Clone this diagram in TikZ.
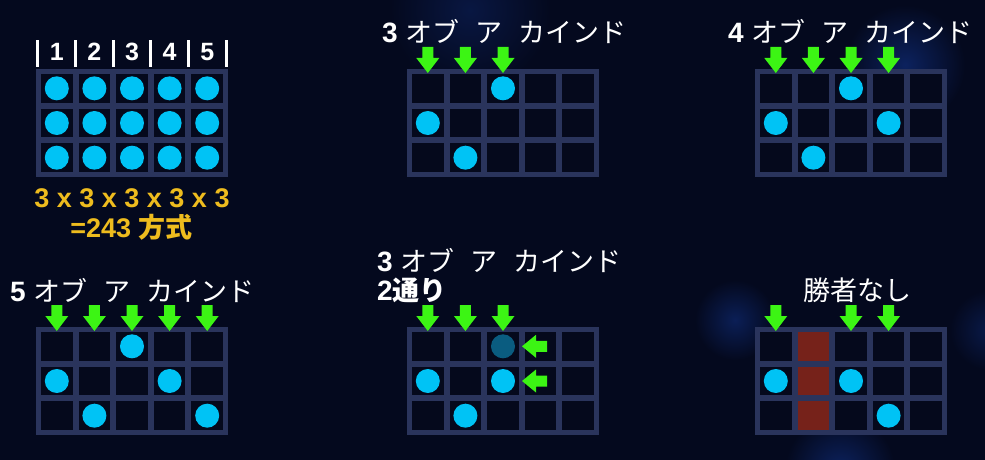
\documentclass[tikz,border=0pt]{standalone}
\usepackage{fontspec}
\setmainfont{Liberation Sans}
\newfontfamily\jp{Noto Sans CJK JP}
\definecolor{bg}{RGB}{4,9,30}
\definecolor{framec}{RGB}{42,52,92}
\definecolor{cellc}{RGB}{5,9,28}
\definecolor{ballc}{RGB}{0,195,245}
\definecolor{dballc}{RGB}{10,92,128}
\definecolor{arrc}{RGB}{60,245,20}
\definecolor{goldc}{RGB}{238,188,30}
\definecolor{redc}{RGB}{118,34,26}
\definecolor{glowc}{RGB}{14,40,110}
\tikzset{
  ballst/.style={circle,minimum size=24pt,inner sep=0pt,draw=none},
  titlest/.style={text=white,inner sep=0pt,anchor=base west},
  goldst/.style={text=goldc,inner sep=0pt,anchor=base},
  arrowfill/.style={fill=arrc}
}
\newcommand\Grid[3]{%
  \fill[framec] (#2,#3) rectangle ++(192,108);
  \foreach \i in {0,...,4}{\foreach \j in {0,...,2}{
    \fill[cellc] ({#2+5+37.6*\i},{#3+5+34.67*\j}) rectangle ++(31.6,28.67);
  }}
  \coordinate (#1) at (#2,#3);
}
\newcommand\RedCol[3]{% X Y col
  \foreach \j in {0,...,2}{
    \fill[redc] ({#1+5+37.6*(#3-1)},{#2+5+34.67*\j}) rectangle ++(31.6,28.67);
  }
}
\newcommand\Ball[6]{% color name X Y col row
  \node[ballst,fill=#1] (#2) at ({#3+20.8+37.6*(#5-1)},{#4+19.33+34.67*(#6-1)}) {};
}
\newcommand\DArrow[3]{% X Y col
  \pgfmathsetmacro\cx{#1+20.8+37.6*(#3-1)}
  \pgfmathsetmacro\yt{#2-22}
  \fill[arrowfill] (\cx-5.5,\yt) -- (\cx+5.5,\yt) -- (\cx+5.5,\yt+11) -- (\cx+11.5,\yt+11)
     -- (\cx,\yt+26) -- (\cx-11.5,\yt+11) -- (\cx-5.5,\yt+11) -- cycle;
}
\newcommand\LArrow[2]{% xtip cy
  \fill[arrowfill] (#1,#2) -- (#1+14,#2-11.5) -- (#1+14,#2-5.5) -- (#1+25,#2-5.5)
     -- (#1+25,#2+5.5) -- (#1+14,#2+5.5) -- (#1+14,#2+11.5) -- cycle;
}
\newcommand\Title[4]{% name x y digit
  \node[titlest] (#1) at (#2,#3) {\fontsize{28}{30}\selectfont\bfseries #4\hspace{8pt}{\jp\fontsize{27}{30}\selectfont\mdseries オブ\hspace{16pt}ア\hspace{16pt}カインド}};
}
\begin{document}
\begin{tikzpicture}[x=1pt,y=-1pt]
\fill[bg] (0,0) rectangle (985,460);
\useasboundingbox (0,0) rectangle (985,460);
% glows
\shade[inner color=glowc!45!bg,outer color=bg] (470,10) circle (80);
\shade[inner color=glowc!80!bg,outer color=bg] (905,65) circle (60);
\shade[inner color=glowc!70!bg,outer color=bg] (735,320) circle (40);
\shade[inner color=glowc!80!bg,outer color=bg] (840,470) circle (55);
\shade[inner color=glowc!55!bg,outer color=bg] (990,330) circle (40);

% ---- grid 1 : 243 ways
\Grid{g1}{36}{69}
\foreach \c in {1,...,5}{\foreach \r in {1,2,3}{\Ball{ballc}{b1-\c-\r}{36}{69}{\c}{\r}}}
\foreach \x in {37.5,75.6,113.2,150.8,188.4,226.5}{\fill[white] (\x-1.5,40) rectangle (\x+1.5,67);}
\foreach \c in {1,...,5}{
  \node[text=white,inner sep=0pt,anchor=base] (h\c) at ({36+20.8+37.6*(\c-1)},60) {\fontsize{25}{28}\selectfont\bfseries\c};
}
\node[goldst] (f1) at (132,207) {\fontsize{27}{30}\selectfont\bfseries 3 x 3 x 3 x 3 x 3};
\node[goldst] (f2) at (131.5,237) {\fontsize{27}{30}\selectfont\bfseries =243 {\jp\bfseries 方式}};

% ---- grid 2 : 3 of a kind
\Title{t2}{382}{43}{3}
\Grid{g2}{407}{69}
\foreach \c in {1,2,3}{\DArrow{407}{69}{\c}}
\Ball{ballc}{b2a}{407}{69}{3}{1}
\Ball{ballc}{b2b}{407}{69}{1}{2}
\Ball{ballc}{b2c}{407}{69}{2}{3}

% ---- grid 3 : 4 of a kind
\Title{t3}{728}{43}{4}
\Grid{g3}{755}{69}
\foreach \c in {1,2,3,4}{\DArrow{755}{69}{\c}}
\Ball{ballc}{b3a}{755}{69}{3}{1}
\Ball{ballc}{b3b}{755}{69}{1}{2}
\Ball{ballc}{b3c}{755}{69}{4}{2}
\Ball{ballc}{b3d}{755}{69}{2}{3}

% ---- grid 4 : 5 of a kind
\Title{t4}{10}{301}{5}
\Grid{g4}{36}{327}
\foreach \c in {1,...,5}{\DArrow{36}{327}{\c}}
\Ball{ballc}{b4a}{36}{327}{3}{1}
\Ball{ballc}{b4b}{36}{327}{1}{2}
\Ball{ballc}{b4c}{36}{327}{4}{2}
\Ball{ballc}{b4d}{36}{327}{2}{3}
\Ball{ballc}{b4e}{36}{327}{5}{3}

% ---- grid 5 : 3 of a kind, 2 ways
\Title{t5}{377}{271}{3}
\node[titlest] (t5b) at (377,300) {\fontsize{28}{30}\selectfont\bfseries 2{\jp\fontsize{27}{30}\selectfont\bfseries 通り}};
\Grid{g5}{407}{327}
\foreach \c in {1,2,3}{\DArrow{407}{327}{\c}}
\Ball{dballc}{b5a}{407}{327}{3}{1}
\Ball{ballc}{b5b}{407}{327}{1}{2}
\Ball{ballc}{b5c}{407}{327}{3}{2}
\Ball{ballc}{b5d}{407}{327}{2}{3}
\LArrow{522}{346.3}
\LArrow{522}{381}

% ---- grid 6 : no win
\node[titlest] (t6) at (803,300) {\jp\fontsize{27}{30}\selectfont 勝者なし};
\Grid{g6}{755}{327}
\RedCol{755}{327}{2}
\foreach \c in {1,3,4}{\DArrow{755}{327}{\c}}
\Ball{ballc}{b6a}{755}{327}{1}{2}
\Ball{ballc}{b6b}{755}{327}{3}{2}
\Ball{ballc}{b6c}{755}{327}{4}{3}
\end{tikzpicture}
\end{document}
